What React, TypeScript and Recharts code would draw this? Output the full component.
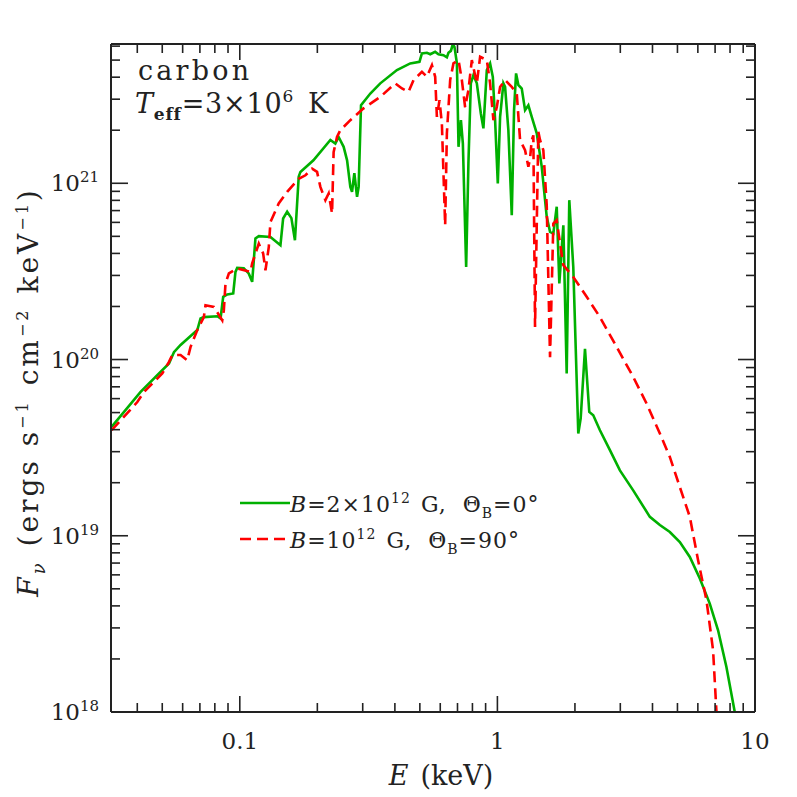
import React from 'react';
import { LineChart, Line, XAxis, YAxis, Legend } from 'recharts';

// ---- data (E in keV, F_nu in ergs s^-1 cm^-2 keV^-1) ----
const greenE = [
  0.0318, 0.0412, 0.0531, 0.0555, 0.0589, 0.0684, 0.0704, 0.0725, 0.0818, 0.0842,
  0.0862, 0.0894, 0.0943, 0.0962, 0.0977, 0.1036, 0.1083, 0.1117, 0.115, 0.1185,
  0.1315, 0.1438, 0.1473, 0.1527, 0.1586, 0.1637, 0.1693, 0.1719, 0.1931, 0.2247,
  0.2349, 0.2419, 0.253, 0.2609, 0.2686, 0.2727, 0.2784, 0.2852, 0.2893, 0.2955,
  0.3211, 0.351, 0.4074, 0.4588, 0.4983, 0.5093, 0.5326, 0.5485, 0.5734, 0.5906,
  0.6175, 0.6366, 0.6457, 0.6597, 0.6716, 0.6813, 0.6963, 0.7064, 0.7217, 0.7344,
  0.7563, 0.7718, 0.7886, 0.8071, 0.832, 0.8624, 0.8824, 0.9097, 0.9369, 0.9598,
  0.9797, 1.0036, 1.0244, 1.055, 1.0711, 1.1031, 1.137, 1.1606, 1.1816, 1.2061,
  1.2433, 1.2806, 1.3189, 1.3594, 1.4215, 1.4865, 1.5542, 1.6008, 1.6487, 1.6993,
  1.7394, 1.803, 1.8578, 1.9013, 1.9705, 2.0606, 2.1053, 2.1878, 2.2733, 2.3559,
  2.5006, 2.7342, 2.9895, 3.3665, 3.9071, 4.2724, 4.671, 5.1074, 5.5843, 6.1062,
  6.6744, 7.1889, 7.7458, 8.3445,
];
const greenF = [
  4.15e19, 6.55e19, 9.49e19, 1.10e20, 1.21e20, 1.47e20, 1.71e20, 1.74e20, 1.76e20, 1.71e20,
  2.27e20, 2.34e20, 2.37e20, 3.14e20, 3.31e20, 3.29e20, 3.08e20, 2.76e20, 4.86e20, 5.01e20,
  4.96e20, 4.45e20, 6.31e20, 6.90e20, 6.34e20, 4.75e20, 1.09e21, 1.16e21, 1.35e21, 1.76e21,
  1.68e21, 1.83e21, 1.61e21, 1.35e21, 9.54e20, 8.94e20, 1.14e21, 8.37e20, 9.54e20, 2.77e21,
  3.23e21, 3.69e21, 4.39e21, 4.79e21, 4.89e21, 5.45e21, 5.50e21, 5.40e21, 5.57e21, 5.40e21,
  5.33e21, 5.18e21, 5.50e21, 5.64e21, 6.16e21, 5.94e21, 4.79e21, 1.61e21, 2.28e21, 1.68e21,
  3.35e20, 1.30e21, 3.69e21, 4.11e21, 3.69e21, 2.49e21, 2.05e21, 4.39e21, 4.79e21, 4.02e21,
  2.28e21, 9.97e20, 2.38e21, 3.69e21, 3.52e21, 2.00e21, 6.59e20, 2.60e21, 4.20e21, 3.61e21,
  3.45e21, 2.60e21, 2.77e21, 2.38e21, 1.92e21, 1.24e21, 6.45e20, 5.30e20, 5.19e20, 7.36e20,
  2.70e20, 5.78e20, 8.33e19, 8.02e20, 3.35e20, 3.80e19, 4.63e19, 1.15e20, 5.04e19, 4.83e19,
  3.97e19, 3.06e19, 2.35e19, 1.81e19, 1.28e19, 1.15e19, 1.05e19, 9.22e18, 7.58e18, 5.72e18,
  4.12e18, 2.91e18, 1.80e18, 1.00e18,
];
const redE = [
  0.0318, 0.0345, 0.04, 0.0425, 0.05, 0.0531, 0.0547, 0.0589, 0.0625, 0.0644,
  0.0684, 0.0725, 0.0736, 0.0793, 0.0855, 0.0867, 0.088, 0.0907, 0.0977, 0.11,
  0.1117, 0.1185, 0.1232, 0.1258, 0.1296, 0.1315, 0.1416, 0.1527, 0.1693, 0.1798,
  0.1908, 0.1995, 0.2055, 0.2149, 0.2213, 0.2281, 0.2313, 0.2384, 0.2456, 0.2686,
  0.3024, 0.351, 0.4013, 0.4261, 0.4519, 0.4725, 0.5093, 0.5326, 0.557, 0.5734,
  0.5822, 0.5959, 0.6088, 0.6175, 0.6269, 0.6366, 0.6556, 0.6752, 0.7064, 0.7278,
  0.7494, 0.7718, 0.7957, 0.832, 0.8569, 0.9097, 0.9369, 0.9649, 0.9947, 1.0244,
  1.0711, 1.137, 1.1889, 1.2246, 1.2806, 1.3189, 1.3389, 1.3594, 1.3789, 1.3999,
  1.4418, 1.4638, 1.5077, 1.5542, 1.6008, 1.6487, 1.6993, 1.75, 1.803, 1.9705,
  2.2213, 2.5006, 2.9024, 3.3665, 3.7937, 4.2724, 4.671, 5.1074, 5.5843, 6.0128,
  6.4819, 6.8747, 7.0866,
];
const redF = [
  3.97e19, 4.52e19, 5.74e19, 6.55e19, 8.33e19, 9.69e19, 1.06e20, 1.06e20, 9.91e19, 1.18e20,
  1.47e20, 1.74e20, 2.03e20, 1.99e20, 1.67e20, 1.90e20, 2.70e20, 3.08e20, 3.29e20, 3.14e20,
  3.51e20, 4.55e20, 4.00e20, 3.21e20, 4.36e20, 6.02e20, 7.68e20, 8.94e20, 1.06e21, 1.11e21,
  1.21e21, 1.16e21, 9.54e20, 8.02e20, 8.75e20, 6.74e20, 1.50e21, 1.83e21, 2.00e21, 2.28e21,
  2.66e21, 3.09e21, 3.69e21, 3.45e21, 3.30e21, 3.85e21, 4.29e21, 4.02e21, 4.68e21, 4.02e21,
  2.38e21, 2.96e21, 2.18e21, 1.14e21, 5.78e20, 1.92e21, 3.85e21, 4.79e21, 5.00e21, 3.85e21,
  2.70e21, 3.38e21, 5.00e21, 3.69e21, 5.22e21, 5.00e21, 3.69e21, 2.28e21, 2.71e21, 3.52e21,
  3.85e21, 3.52e21, 3.23e21, 1.76e21, 1.54e21, 1.24e21, 1.38e21, 1.76e21, 1.87e21, 1.53e20,
  1.96e21, 1.76e21, 1.54e21, 7.51e20, 1.03e20, 5.91e20, 6.17e20, 4.57e20, 3.43e20, 2.94e20,
  2.27e20, 1.74e20, 1.18e20, 7.97e19, 5.63e19, 3.80e19, 2.80e19, 1.89e19, 1.28e19, 7.26e18,
  4.30e18, 2.24e18, 1.00e18,
];

const xDomain = [0.031623, 10];
const yDomain = [1e18, 6.17e21];
const xTicks = [
  0.04, 0.05, 0.06, 0.07, 0.08, 0.09, 0.1,
  0.2, 0.3, 0.4, 0.5, 0.6, 0.7, 0.8, 0.9, 1,
  2, 3, 4, 5, 6, 7, 8, 9, 10,
];
const yTicks = [
  1e18, 2e18, 3e18, 4e18, 5e18, 6e18, 7e18, 8e18, 9e18, 1e19,
  2e19, 3e19, 4e19, 5e19, 6e19, 7e19, 8e19, 9e19, 1e20,
  2e20, 3e20, 4e20, 5e20, 6e20, 7e20, 8e20, 9e20, 1e21,
  2e21, 3e21, 4e21, 5e21, 6e21,
];
const xTickLabels: Record<string, string> = { '0.1': '0.1', '1': '1', '10': '10' };

const GREEN = '#00b000';
const RED = '#ff0000';
const INK = '#222';
const FONT = '"DejaVu Serif", serif';

const isMajor = (v: number) => {
  const l = Math.log10(v);
  return Math.abs(l - Math.round(l)) < 1e-6;
};

// plot frame (page pixels)
const PL = 111, PR = 755, PT = 44, PB = 712;

const BottomTick = (props: any) => {
  const { x, payload } = props;
  const y = PB;
  const v = payload.value;
  const major = isMajor(v);
  const lab = xTickLabels[String(v)];
  return (
    <g>
      <line x1={x} x2={x} y1={y} y2={y - (major ? 16 : 9)} stroke={INK} strokeWidth={1.6} />
      {major && lab !== undefined && (
        <text x={x} y={y + 37} textAnchor="middle" fontSize={23} fontFamily={FONT} fill={INK}>
          {lab}
        </text>
      )}
    </g>
  );
};

const TopTick = (props: any) => {
  const { x, payload } = props;
  const y = PT;
  const major = isMajor(payload.value);
  return <line x1={x} x2={x} y1={y} y2={y + (major ? 16 : 9)} stroke={INK} strokeWidth={1.6} />;
};

const LeftTick = (props: any) => {
  const { y, payload } = props;
  const x = PL;
  const v = payload.value;
  const major = isMajor(v);
  const exp = Math.round(Math.log10(v));
  return (
    <g>
      <line x1={x} x2={x + (major ? 17 : 9)} y1={y} y2={y} stroke={INK} strokeWidth={1.6} />
      {major && (
        <text x={x - 12} y={y + 8} textAnchor="end" fontSize={23} fontFamily={FONT} fill={INK}>
          <tspan>10</tspan>
          <tspan dy={-9} fontSize={15}>{exp}</tspan>
        </text>
      )}
    </g>
  );
};

const RightTick = (props: any) => {
  const { y, payload } = props;
  const x = PR;
  const major = isMajor(payload.value);
  return <line x1={x} x2={x - (major ? 17 : 9)} y1={y} y2={y} stroke={INK} strokeWidth={1.6} />;
};

const legendItems = [
  { key: 'g', color: GREEN, dash: undefined as string | undefined, b: '2×10', exp: '12', theta: '0' },
  { key: 'r', color: RED, dash: '11 6', b: '10', exp: '12', theta: '90' },
];

const renderLegend = () => (
  <svg width={340} height={72} style={{ display: 'block' }}>
    {legendItems.map((it, i) => {
      const ly = 17 + i * 36;
      return (
        <g key={it.key}>
          <line x1={4} x2={54} y1={ly} y2={ly} stroke={it.color} strokeWidth={2.5} strokeDasharray={it.dash} />
          <text x={54} y={ly + 9} fontSize={22} fontFamily={FONT} fill={INK} letterSpacing={1}>
            <tspan fontStyle="italic">B</tspan>
            <tspan>={it.b}</tspan>
            <tspan dy={-9} fontSize={14}>{it.exp}</tspan>
            <tspan dy={9} dx={10}>G,</tspan>
            <tspan dx={16}>Θ</tspan>
            <tspan dy={6} fontSize={14}>B</tspan>
            <tspan dy={-6}>={it.theta}°</tspan>
          </text>
        </g>
      );
    })}
  </svg>
);

export default function App() {
  const greenData = greenE.map((E, i) => ({ E, F: greenF[i] }));
  const redData = redE.map((E, i) => ({ E, F: redF[i] }));
  const axisLine = { stroke: INK, strokeWidth: 2 };
  return (
    <div style={{ position: 'absolute', left: 0, top: 0, width: 797, height: 797, background: '#fff' }}>
      <LineChart width={797} height={797} margin={{ top: 34, left: 101, right: 32, bottom: 75 }}>
        <XAxis
          xAxisId="b" dataKey="E" type="number" scale="log" domain={xDomain} allowDataOverflow
          ticks={xTicks} interval={0} tick={<BottomTick />} tickLine={false}
          height={10} axisLine={axisLine}
        />
        <XAxis
          xAxisId="t" orientation="top" dataKey="E" type="number" scale="log" domain={xDomain} allowDataOverflow
          ticks={xTicks} interval={0} tick={<TopTick />} tickLine={false}
          height={10} axisLine={axisLine}
        />
        <YAxis
          yAxisId="l" dataKey="F" type="number" scale="log" domain={yDomain} allowDataOverflow
          ticks={yTicks} interval={0} tick={<LeftTick />} tickLine={false}
          width={10} axisLine={axisLine}
        />
        <YAxis
          yAxisId="r" orientation="right" dataKey="F" type="number" scale="log" domain={yDomain} allowDataOverflow
          ticks={yTicks} interval={0} tick={<RightTick />} tickLine={false}
          width={10} axisLine={axisLine}
        />
        <Line
          xAxisId="b" yAxisId="l" data={greenData} dataKey="F" name="green" type="linear"
          stroke={GREEN} strokeWidth={2.6} dot={false} isAnimationActive={false}
        />
        <Line
          xAxisId="b" yAxisId="l" data={redData} dataKey="F" name="red" type="linear"
          stroke={RED} strokeWidth={2.6} strokeDasharray="11 6" dot={false} isAnimationActive={false}
        />
        <Legend
          layout="vertical" align="center" verticalAlign="middle"
          wrapperStyle={{ left: 236, top: 486, width: 340, height: 72 }}
          content={renderLegend}
        />
      </LineChart>
      <svg width={797} height={797} style={{ position: 'absolute', left: 0, top: 0, pointerEvents: 'none' }}>
        <text x={138} y={80} fontSize={27} fontFamily={FONT} fill={INK} letterSpacing={3.2}>carbon</text>
        <text x={135} y={113} fontSize={27} fontFamily={FONT} fill={INK} letterSpacing={0.8}>
          <tspan fontStyle="italic">T</tspan>
          <tspan dy={7} fontSize={17} fontWeight="bold">eff</tspan>
          <tspan dy={-7}>=3×10</tspan>
          <tspan dy={-11} fontSize={17}>6</tspan>
          <tspan dy={11} dx={14}>K</tspan>
        </text>
        <text x={441} y={785} textAnchor="middle" fontSize={27} fontFamily={FONT} fill={INK}>
          <tspan fontStyle="italic">E</tspan>
          <tspan dx={12}>(keV)</tspan>
        </text>
        <text transform="translate(38,392) rotate(-90)" textAnchor="middle" fontSize={28} fontFamily={FONT} fill={INK} letterSpacing={3}>
          <tspan fontStyle="italic">F</tspan>
          <tspan dy={7} fontSize={18} fontStyle="italic">ν</tspan>
          <tspan dy={-7} dx={14}>(ergs s</tspan>
          <tspan dy={-10} fontSize={16}>−1</tspan>
          <tspan dy={10} dx={14}>cm</tspan>
          <tspan dy={-10} fontSize={16}>−2</tspan>
          <tspan dy={10} dx={14}>keV</tspan>
          <tspan dy={-10} fontSize={16}>−1</tspan>
          <tspan dy={10}>)</tspan>
        </text>
      </svg>
    </div>
  );
}
